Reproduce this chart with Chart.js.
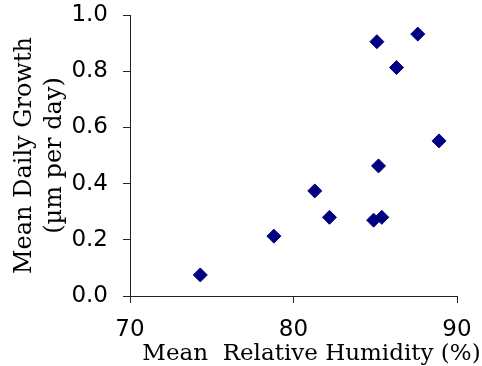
<!DOCTYPE html>
<html>
<head>
<meta charset="utf-8">
<script src="https://cdn.jsdelivr.net/npm/chart.js@4/dist/chart.umd.min.js"></script>
<style>
  html, body { margin: 0; padding: 0; background: #ffffff; }
  #wrap { width: 482px; height: 366px; position: relative; }
</style>
</head>
<body>
<div id="wrap"><canvas id="c" width="482" height="366"></canvas></div>
<script>
// Data
const humidity = [74.3, 78.8, 81.3, 82.2, 84.9, 85.4, 85.1, 87.6, 86.3, 88.9, 85.2];
const growth   = [0.075, 0.213, 0.374, 0.280, 0.270, 0.280, 0.905, 0.932, 0.813, 0.552, 0.463];
const xTitle = "Mean  Relative Humidity (%)";
const yTitle = ["Mean Daily Growth", "(µm per day)"];
const xRange = [70, 90];
const yRange = [0, 1.0];

const points = humidity.map((h, i) => ({ x: h, y: growth[i] }));

const axisColor = '#222222';

// Draws the x-axis title slightly right of centre, as in the reference
const xTitlePlugin = {
  id: 'xTitlePlugin',
  afterDraw(chart) {
    const ctx = chart.ctx;
    const area = chart.chartArea;
    ctx.save();
    ctx.font = '23px "DejaVu Serif"';
    ctx.fillStyle = '#000';
    ctx.textAlign = 'center';
    ctx.textBaseline = 'alphabetic';
    ctx.fillText(xTitle, (area.left + area.right) / 2 + 18, area.bottom + 64);
    ctx.restore();
  }
};

new Chart(document.getElementById('c'), {
  type: 'scatter',
  data: {
    datasets: [{
      data: points,
      pointStyle: 'rectRot',
      pointRadius: 7,
      pointHoverRadius: 7,
      backgroundColor: '#000080',
      borderColor: '#000080',
      borderWidth: 1
    }]
  },
  plugins: [xTitlePlugin],
  options: {
    responsive: false,
    animation: false,
    devicePixelRatio: 1,
    layout: { padding: { left: 0, right: 25, top: 15, bottom: 0 } },
    plugins: { legend: { display: false }, tooltip: { enabled: false } },
    scales: {
      x: {
        type: 'linear',
        min: xRange[0], max: xRange[1],
        afterFit: (s) => { s.height = 70; s.paddingLeft = 0; s.paddingRight = 0; },
        ticks: {
          stepSize: 10,
          color: '#000',
          font: { family: 'DejaVu Sans', size: 23 },
          padding: 13,
          maxRotation: 0
        },
        grid: {
          drawOnChartArea: false,
          drawTicks: true,
          tickLength: 7,
          color: axisColor,
          lineWidth: 1
        },
        border: { display: true, color: axisColor, width: 1 },
        title: { display: false }
      },
      y: {
        type: 'linear',
        min: yRange[0], max: yRange[1],
        afterFit: (s) => { s.width = 130; s.paddingTop = 0; s.paddingBottom = 0; },
        ticks: {
          stepSize: 0.2,
          color: '#000',
          font: { family: 'DejaVu Sans', size: 23 },
          padding: 15,
          callback: (v) => Number(v).toFixed(1)
        },
        grid: {
          drawOnChartArea: false,
          drawTicks: true,
          tickLength: 7,
          color: axisColor,
          lineWidth: 1
        },
        border: { display: true, color: axisColor, width: 1 },
        title: {
          display: true,
          text: yTitle,
          color: '#000',
          font: { family: 'DejaVu Serif', size: 24, lineHeight: 1.25 },
          padding: { top: 10, bottom: 0 }
        }
      }
    }
  }
});
</script>
</body>
</html>
